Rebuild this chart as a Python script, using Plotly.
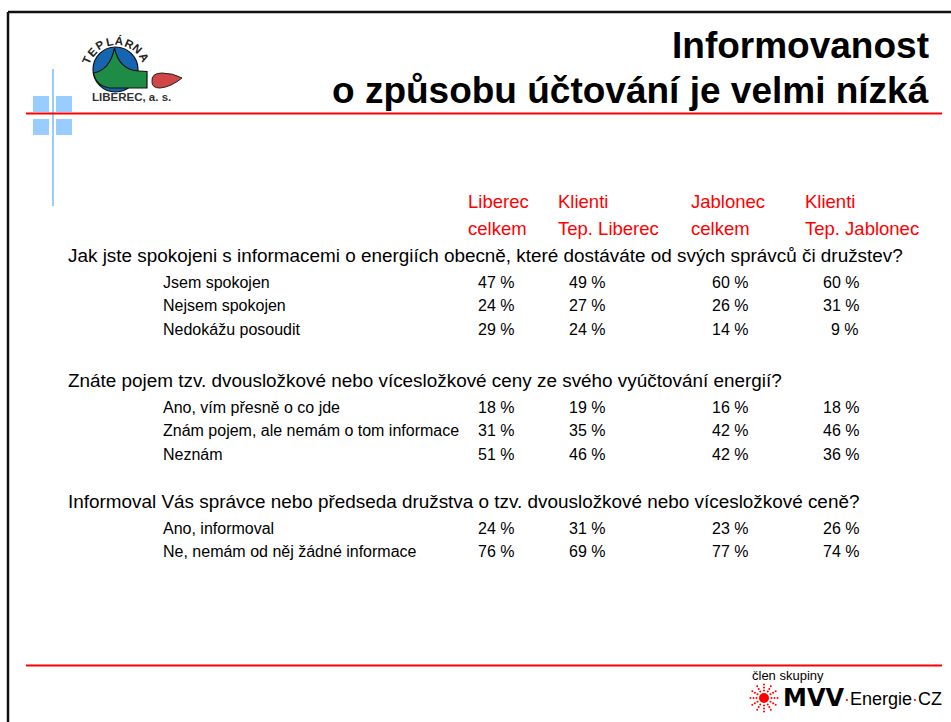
import math
import plotly.graph_objects as go

# ---------------- data ----------------
column_headers = [
    ["Liberec", "celkem"],
    ["Klienti", "Tep. Liberec"],
    ["Jablonec", "celkem"],
    ["Klienti", "Tep. Jablonec"],
]
questions = [
    "Jak jste spokojeni s informacemi o energiích obecně, které dostáváte od svých správců či družstev?",
    "Znáte pojem tzv. dvousložkové nebo vícesložkové ceny ze svého vyúčtování energií?",
    "Informoval Vás správce nebo předseda družstva o tzv. dvousložkové nebo vícesložkové ceně?",
]
answers_q1 = ["Jsem spokojen", "Nejsem spokojen", "Nedokážu posoudit"]
answers_q2 = ["Ano, vím přesně o co jde", "Znám pojem, ale nemám o tom informace", "Neznám"]
answers_q3 = ["Ano, informoval", "Ne, nemám od něj žádné informace"]

liberec_celkem = [[47, 24, 29], [18, 31, 51], [24, 76]]
klienti_tep_liberec = [[49, 27, 24], [19, 35, 46], [31, 69]]
jablonec_celkem = [[60, 26, 14], [16, 42, 42], [23, 77]]
klienti_tep_jablonec = [[60, 31, 9], [18, 46, 36], [26, 74]]

title_lines = ["Informovanost", "o způsobu účtování je velmi nízká"]

# ---------------- layout constants ----------------
W, H = 951, 722
FONT = "Liberation Sans, Arial, sans-serif"
RED = "#FF0000"
BLUE = "#99CCFF"

section_y = [255, 380, 501]
row_first_offset = 27
row_step = 23.6
question_x = 66
answer_x = 161
value_right_x = [516, 607, 750, 861]
header_left_x = [466, 556, 689, 803]
header_y = [201, 228]

fig = go.Figure()
annotations = []
shapes = []

def ann(x, y, text, size, color="#000", xanchor="left", bold=False, family=FONT, angle=0):
    annotations.append(dict(
        x=x, y=y, xref="x", yref="y", text=text, showarrow=False,
        xanchor=xanchor, yanchor="middle", textangle=angle,
        font=dict(family=family, size=size, color=color, weight="bold" if bold else "normal"),
    ))

# ---- frame ----
shapes.append(dict(type="line", x0=8, y0=12, x1=W + 5, y1=12, line=dict(color="#111", width=2.5)))
shapes.append(dict(type="line", x0=8, y0=12, x1=8, y1=H + 5, line=dict(color="#111", width=2.5)))

# ---- blue cross decoration ----
for (x0, y0) in [(33, 96), (56, 96), (33, 119), (56, 119)]:
    shapes.append(dict(type="rect", x0=x0, y0=y0, x1=x0 + 16, y1=y0 + 16, fillcolor=BLUE, line=dict(width=0)))
shapes.append(dict(type="line", x0=53, y0=69, x1=53, y1=206, line=dict(color=BLUE, width=2)))

# ---- red rules ----
shapes.append(dict(type="line", x0=26, y0=113.5, x1=942, y1=113.5, line=dict(color=RED, width=2)))
shapes.append(dict(type="line", x0=26, y0=665.5, x1=942, y1=665.5, line=dict(color=RED, width=2)))

# ---- Teplárna logo ----
shapes.append(dict(type="circle", x0=93, y0=47, x1=138, y1=92, fillcolor="#1565B0",
                   line=dict(color="#111", width=1.2)))
shapes.append(dict(type="path",
                   path="M 93.5,73 Q 110,70 114.5,48 Q 119,70 139,71 L 147,71.5 L 147,88 L 110,88 Q 96,86 93.5,73 Z",
                   fillcolor="#1E8C45", line=dict(color="#111", width=1.2)))
shapes.append(dict(type="path",
                   path="M 152,82 Q 151,73 162,73 Q 173,73 182,78 Q 171,87 160,88 Q 152,88 152,82 Z",
                   fillcolor="#D04545", line=dict(color="#222", width=1)))
logo_letters = "TEPLÁRNA"
cx, cy, r = 116, 73, 32
angles = [-66, -48, -30, -12, 6, 24, 42, 60]
for ch, a in zip(logo_letters, angles):
    rad = math.radians(a)
    ann(cx + r * math.sin(rad), cy - r * math.cos(rad), ch, 11.5, color="#222",
        xanchor="center", bold=True, angle=a)
ann(131, 97, "LIBEREC, a. s.", 11.5, color="#333", xanchor="center", bold=True)

# ---- title ----
ann(931, 45, title_lines[0], 37, xanchor="right", bold=True)
ann(931, 90, title_lines[1], 37, xanchor="right", bold=True)

# ---- column headers ----
for hx, lines in zip(header_left_x, column_headers):
    for ly, t in zip(header_y, lines):
        ann(hx, ly, t, 18.5, color=RED)

# ---- table ----
answers = [answers_q1, answers_q2, answers_q3]
columns = [liberec_celkem, klienti_tep_liberec, jablonec_celkem, klienti_tep_jablonec]
for s, (q, ans) in enumerate(zip(questions, answers)):
    qy = section_y[s]
    ann(question_x, qy, q, 18.9)
    for i, a in enumerate(ans):
        ry = qy + row_first_offset + row_step * i
        ann(answer_x, ry, a, 16)
        for c, col in enumerate(columns):
            ann(value_right_x[c], ry, f"{col[s][i]} %", 16, xanchor="right")

# ---- footer logo ----
ann(750, 675, "člen skupiny", 13)
sx, sy = 764, 698
shapes.append(dict(type="circle", x0=sx - 5, y0=sy - 5, x1=sx + 5, y1=sy + 5, fillcolor=RED, line=dict(width=0)))
for k in range(12):
    a = math.radians(k * 30)
    for rr in (7.5, 10.5, 13.5):
        px, py = sx + rr * math.cos(a), sy + rr * math.sin(a)
        shapes.append(dict(type="circle", x0=px - 1, y0=py - 1, x1=px + 1, y1=py + 1,
                           fillcolor=RED, line=dict(width=0)))
ann(781, 698, "MVV", 24, xanchor="left", bold=True, family="DejaVu Sans, Liberation Sans, sans-serif")
ann(944, 698.5, '<span style="color:#FF0000">·</span>Energie<span style="color:#FF0000">·</span>CZ', 18,
    xanchor="right", family=FONT)

fig.update_layout(
    width=W, height=H,
    margin=dict(l=0, r=0, t=0, b=0),
    paper_bgcolor="white", plot_bgcolor="white",
    xaxis=dict(range=[0, W], visible=False, fixedrange=True),
    yaxis=dict(range=[H, 0], visible=False, fixedrange=True),
    showlegend=False,
    hovermode=False,
    annotations=annotations,
    shapes=shapes,
)

fig.write_html("out.html",
               config={"displayModeBar": False, "staticPlot": True},
               post_script="document.body.style.margin='0';document.body.style.overflow='hidden';")
